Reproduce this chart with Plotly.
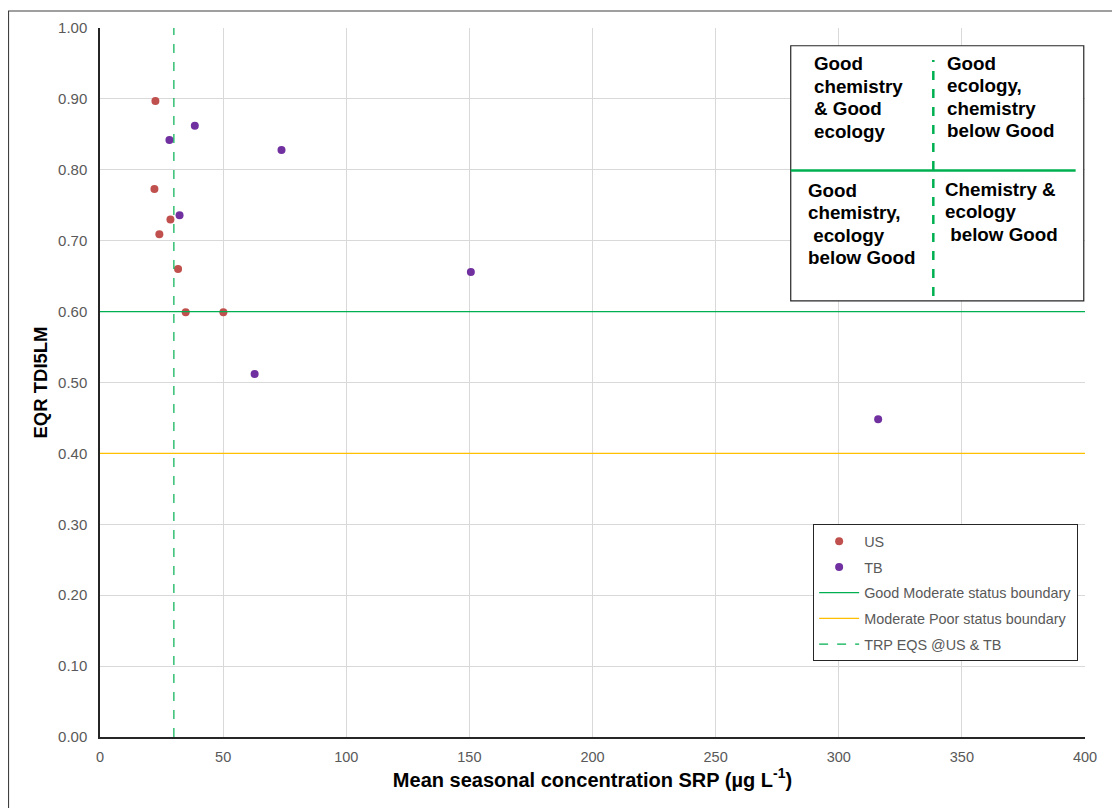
import plotly.graph_objects as go

# ---- data ----
us_srp = [22.5, 22.1, 28.6, 24.1, 31.7, 34.8, 50.1]
us_eqr = [0.897, 0.773, 0.730, 0.709, 0.660, 0.599, 0.599]
tb_srp = [38.5, 28.2, 73.7, 32.3, 150.6, 62.8, 316.0]
tb_eqr = [0.862, 0.842, 0.828, 0.736, 0.656, 0.512, 0.448]
good_moderate = 0.60
moderate_poor = 0.40
trp_eqs = 30
x_range = [0, 400]
y_range = [0, 1.0]
x_ticks = [0, 50, 100, 150, 200, 250, 300, 350, 400]
y_ticks = [0.0, 0.1, 0.2, 0.3, 0.4, 0.5, 0.6, 0.7, 0.8, 0.9, 1.0]

quad_tl = ["Good", "chemistry", "& Good", "ecology"]
quad_tr = ["Good", "ecology,", "chemistry", "below Good"]
quad_bl = ["Good", "chemistry,", "\u00a0ecology", "below Good"]
quad_br = ["Chemistry &", "ecology", "\u00a0below Good"]

FONT = "Arial, Liberation Sans, sans-serif"
GREEN = "#00B050"
YELLOW = "#FFC000"

fig = go.Figure()
fig.add_trace(go.Scatter(x=us_srp, y=us_eqr, mode="markers", name="US",
                         legendgroup="g1",
                         marker=dict(color="#C0504D", size=8)))
fig.add_trace(go.Scatter(x=tb_srp, y=tb_eqr, mode="markers", name="TB",
                         legendgroup="g2",
                         marker=dict(color="#7030A0", size=8)))
fig.add_trace(go.Scatter(x=x_range, y=[good_moderate] * 2, mode="lines",
                         name="Good Moderate status boundary", legendgroup="g3",
                         line=dict(color=GREEN, width=1.2)))
fig.add_trace(go.Scatter(x=x_range, y=[moderate_poor] * 2, mode="lines",
                         name="Moderate Poor status boundary", legendgroup="g4",
                         line=dict(color=YELLOW, width=1.2)))
fig.add_trace(go.Scatter(x=[trp_eqs] * 2, y=y_range, mode="lines",
                         name="TRP EQS @US & TB", legendgroup="g5",
                         line=dict(color=GREEN, width=1.2, dash="dash")))

# inset quadrant box (data coordinates)
bx0, bx1, by0, by1 = 280.5, 399.5, 0.615, 0.975
midx, midy = 338.4, 0.799
shapes = [
    dict(type="rect", xref="x", yref="y", x0=bx0, x1=bx1, y0=by0, y1=by1,
         line=dict(color="#262626", width=1.2), fillcolor="white", layer="above"),
    dict(type="line", xref="x", yref="y", x0=bx0, x1=396.2, y0=midy, y1=midy,
         line=dict(color=GREEN, width=2.5), layer="above"),
    dict(type="line", xref="x", yref="y", x0=midx, x1=midx, y0=0.622, y1=0.955,
         line=dict(color=GREEN, width=2.5, dash="dash"), layer="above"),
    # outer chart frame (partly off-canvas)
    dict(type="rect", xref="paper", yref="paper", x0=-0.0929, x1=1.08,
         y0=-0.15, y1=1.024, line=dict(color="#404040", width=1.2)),
]

annotations = []
def add_block(lines, x, ytop):
    for i, t in enumerate(lines):
        annotations.append(dict(x=x, y=ytop, xref="x", yref="y", text=t,
                                showarrow=False, xanchor="left", yanchor="top",
                                yshift=-i * 22.5, align="left",
                                font=dict(family=FONT, size=18.8, color="black",
                                          weight="bold")))

add_block(quad_tl, 289.0, 0.967)
add_block(quad_tr, 343.0, 0.968)
add_block(quad_bl, 286.5, 0.789)
add_block(quad_br, 342.3, 0.790)

fig.update_layout(
    width=1120, height=808,
    margin=dict(l=92, r=43, t=20, b=79),
    paper_bgcolor="white", plot_bgcolor="white",
    font=dict(family=FONT, color="#595959"),
    shapes=shapes, annotations=annotations,
    showlegend=True,
    legend=dict(x=0.724, y=0.3, xanchor="left", yanchor="top",
                bgcolor="white", bordercolor="#262626", borderwidth=1,
                font=dict(family=FONT, size=14.4, color="#595959"),
                tracegroupgap=4, itemwidth=40),
    xaxis=dict(range=x_range, tickvals=x_ticks, showgrid=True,
               gridcolor="#D9D9D9", gridwidth=1, zeroline=False,
               showline=True, linecolor="#262626", linewidth=1.5,
               ticks="", ticklabelstandoff=6,
               tickfont=dict(size=14.5, color="#595959"),
               title=dict(text="Mean seasonal concentration SRP (µg L<sup>-1</sup>)",
                          font=dict(family=FONT, size=20, color="black",
                                    weight="bold"),
                          standoff=5)),
    yaxis=dict(range=y_range, tickvals=y_ticks, tickformat=".2f", showgrid=True,
               gridcolor="#D9D9D9", gridwidth=1, zeroline=False,
               showline=True, linecolor="#262626", linewidth=1.5,
               ticks="", ticklabelstandoff=8,
               tickfont=dict(size=15, color="#595959"),
               title=dict(text="EQR TDI5LM",
                          font=dict(family=FONT, size=18.5, color="black",
                                    weight="bold"),
                          standoff=6)),
)

fig.write_html("out.html")
